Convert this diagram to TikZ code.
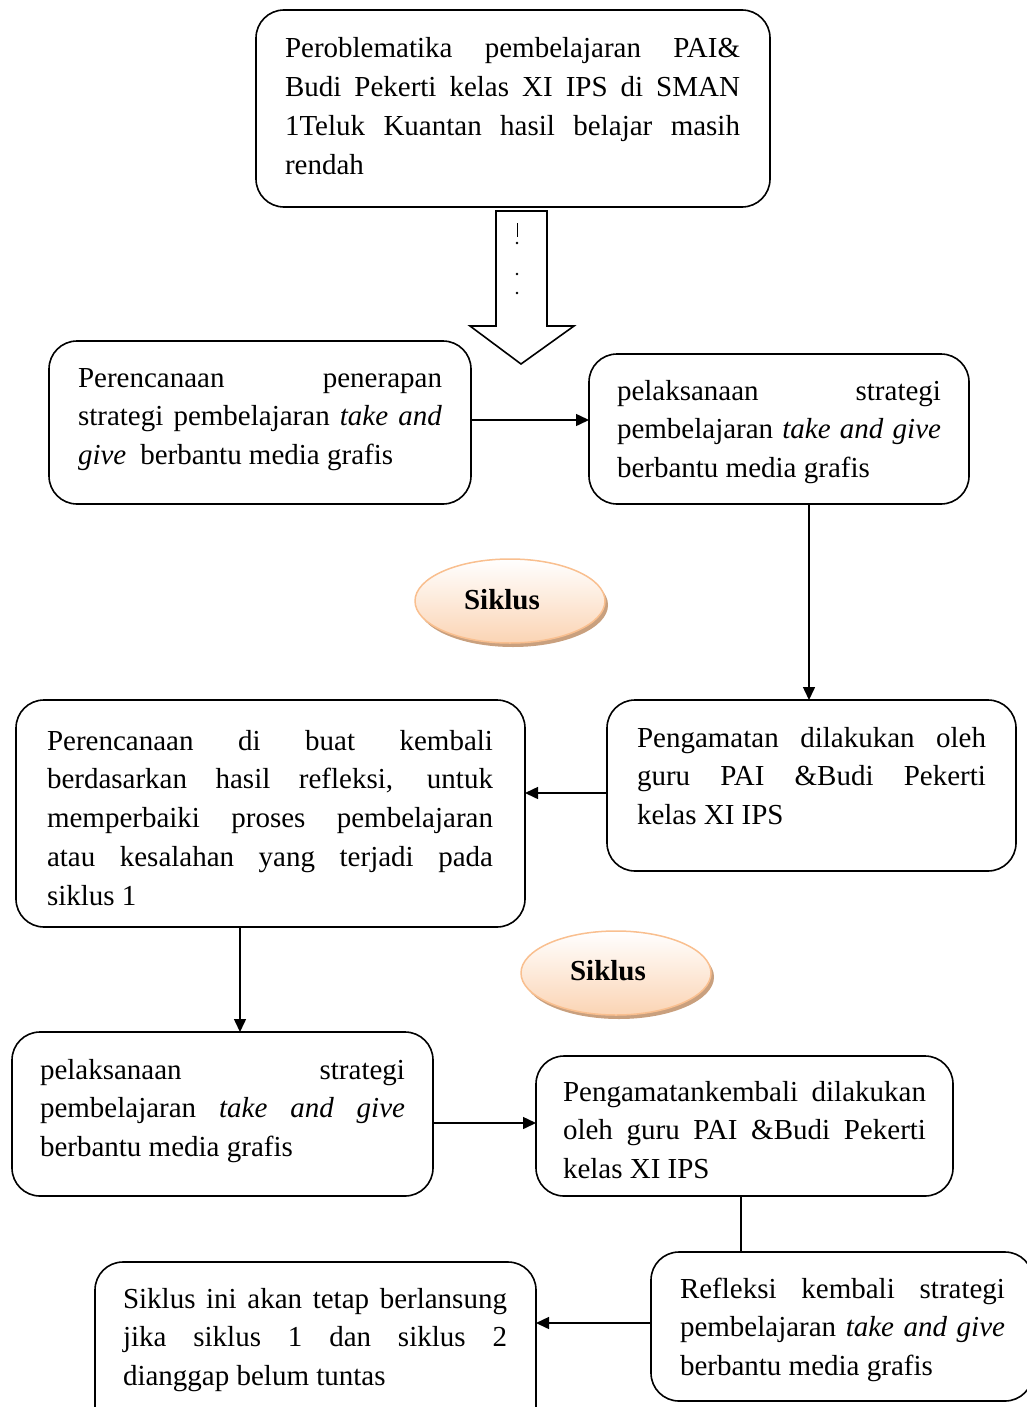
\documentclass[tikz,border=0pt]{standalone}
\usepackage{fontspec}
\setmainfont{Liberation Serif}
\usetikzlibrary{shapes.geometric,arrows.meta,shadows}
\definecolor{peach}{HTML}{FBD4B4}
\definecolor{peachline}{HTML}{F9BF8F}
\definecolor{shadowc}{HTML}{C9A07E}
\newcommand\jl[2]{\leavevmode\hbox to #1{\spaceskip=0.25em plus 20em\relax #2}}
\newcommand\nl[1]{\leavevmode\hbox{\spaceskip=0.25em\relax #1}}
\newcommand\fl{\rule{0pt}{22pt}}
\begin{document}
\begin{tikzpicture}[x=1pt,y=-1pt,
 box/.style={draw, line width=1.6pt, rounded corners=28pt, inner sep=0pt, outer sep=0pt, anchor=north west},
 txt/.style={inner sep=0pt, outer sep=0pt, anchor=north west, align=left, font=\fontsize{29}{38.8}\selectfont},
 arr/.style={line width=1.5pt, -{Triangle[length=13pt,width=12pt]}},
 lin/.style={line width=1.5pt},
 cyc/.style={ellipse, draw=peachline, line width=1.5pt, top color=white, bottom color=peach, minimum width=190pt, minimum height=84pt, inner sep=0pt, drop shadow={shadow xshift=3pt, shadow yshift=-4pt, fill=shadowc, opacity=1}},
 cyctxt/.style={font=\fontsize{29}{34}\selectfont\bfseries, inner sep=0pt, anchor=base}
]
\useasboundingbox (0,0) rectangle (1026,1407);

% boxes
\node[box, minimum width=514pt, minimum height=197pt] (A) at (256,10) {};
\node[box, minimum width=422pt, minimum height=163pt] (B) at (49,341) {};
\node[box, minimum width=380pt, minimum height=150pt] (C) at (589,354) {};
\node[box, minimum width=509pt, minimum height=227pt] (D) at (16,700) {};
\node[box, minimum width=409pt, minimum height=171pt] (E) at (607,700) {};
\node[box, minimum width=421pt, minimum height=164pt] (F) at (12,1032) {};
\node[box, minimum width=417pt, minimum height=140pt] (G) at (536,1056) {};
\node[box, minimum width=382pt, minimum height=149pt] (H) at (651,1252) {};
\node[box, minimum width=441pt, minimum height=180pt] (I) at (95,1262) {};

% texts
\node[txt, text width=455pt] (At) at (285,36) {\jl{455pt}{\fl Peroblematika pembelajaran PAI\&}\\ \jl{455pt}{Budi Pekerti kelas XI IPS di SMAN}\\ \jl{455pt}{1Teluk Kuantan hasil belajar masih}\\ \nl{rendah}};
\node[txt, text width=364pt] (Bt) at (78,365) {\jl{364pt}{\fl Perencanaan penerapan}\\ \jl{364pt}{strategi pembelajaran \textit{take and}}\\ \nl{\textit{give}\hspace{14pt}berbantu media grafis}};
\node[txt, text width=324pt] (Ct) at (617,378) {\jl{324pt}{\fl pelaksanaan strategi}\\ \jl{324pt}{pembelajaran \textit{take and give}}\\ \nl{berbantu media grafis}};
\node[txt, text width=446pt] (Dt) at (47,728) {\jl{446pt}{\fl Perencanaan di buat kembali}\\ \jl{446pt}{berdasarkan hasil refleksi, untuk}\\ \jl{446pt}{memperbaiki proses pembelajaran}\\ \jl{446pt}{atau kesalahan yang terjadi pada}\\ \nl{siklus 1}};
\node[txt, text width=349pt] (Et) at (637,725) {\jl{349pt}{\fl Pengamatan dilakukan oleh}\\ \jl{349pt}{guru PAI \&Budi Pekerti}\\ \nl{kelas XI IPS}};
\node[txt, text width=365pt] (Ft) at (40,1057) {\jl{365pt}{\fl pelaksanaan strategi}\\ \jl{365pt}{pembelajaran \textit{take and give}}\\ \nl{berbantu media grafis}};
\node[txt, text width=363pt] (Gt) at (563,1079) {\jl{363pt}{\fl Pengamatankembali dilakukan}\\ \jl{363pt}{oleh guru PAI \&Budi Pekerti}\\ \nl{kelas XI IPS}};
\node[txt, text width=325pt] (Ht) at (680,1276) {\jl{325pt}{\fl Refleksi kembali strategi}\\ \jl{325pt}{pembelajaran \textit{take and give}}\\ \nl{berbantu media grafis}};
\node[txt, text width=384pt] (It) at (123,1286) {\jl{384pt}{\fl Siklus ini akan tetap berlansung}\\ \jl{384pt}{jika siklus 1 dan siklus 2}\\ \nl{dianggap belum tuntas}};

% cycle ellipses
\node[cyc] (S1) at (510,601) {};
\node[cyctxt] (S1t) at (502,609) {Siklus};
\node[cyc] (S2) at (616,973) {};
\node[cyctxt] (S2t) at (608,980) {Siklus};

% block arrow
\draw[line width=1.6pt, fill=white, line join=miter] (496,211) -- (547,211) -- (547,326) -- (574,326) -- (521,364) -- (470,326) -- (496,326) -- cycle;
\draw[line width=0.9pt] (517,223) -- (517,237);
\fill (517,243) circle (1.3);
\fill (517,274) circle (1.3);
\fill (517,293) circle (1.3);

% connectors
\draw[arr] (B.east |- 0,420) -- (C.west |- 0,420);
\draw[arr] (C.south -| 809,0) -- (E.north -| 809,0);
\draw[arr] (E.west |- 0,793) -- (D.east |- 0,793);
\draw[arr] (D.south -| 240,0) -- (F.north -| 240,0);
\draw[arr] (F.east |- 0,1123) -- (G.west |- 0,1123);
\draw[lin] (G.south -| 741,0) -- (H.north -| 741,0);
\draw[arr] (H.west |- 0,1323) -- (I.east |- 0,1323);
\end{tikzpicture}
\end{document}
